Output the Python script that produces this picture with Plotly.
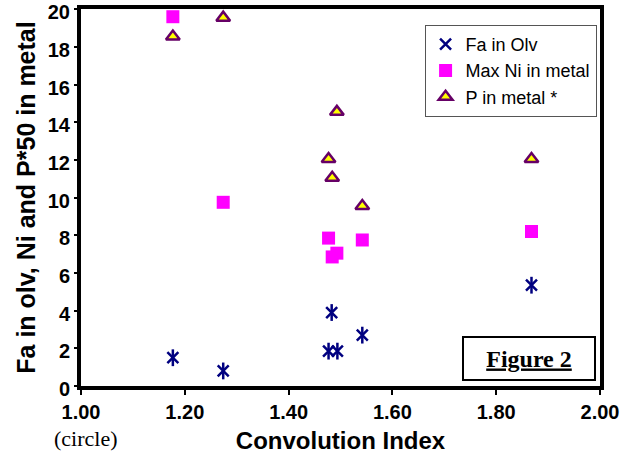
import plotly.graph_objects as go

fa_x = [1.177, 1.274, 1.477, 1.483, 1.494, 1.542, 1.868]
fa_in_olv = [1.5, 0.8, 1.85, 3.9, 1.85, 2.7, 5.35]

ni_x = [1.177, 1.274, 1.477, 1.484, 1.493, 1.542, 1.868]
max_ni = [19.6, 9.75, 7.85, 6.85, 7.05, 7.75, 8.2]

p_x = [1.177, 1.274, 1.477, 1.484, 1.493, 1.542, 1.868]
p_metal = [18.55, 19.55, 12.05, 11.05, 14.55, 9.55, 12.05]

x_ticks = [1.0, 1.2, 1.4, 1.6, 1.8, 2.0]
y_ticks = [0, 2, 4, 6, 8, 10, 12, 14, 16, 18, 20]

fig = go.Figure()
fig.add_trace(go.Scatter(x=fa_x, y=fa_in_olv, mode="markers", name="Fa in Olv",
                         legendgroup="fa",
                         marker=dict(symbol="x-thin-open", size=11, color="#000080",
                                     line=dict(color="#000080", width=2.5))))
fig.add_trace(go.Scatter(x=fa_x, y=fa_in_olv, mode="markers", showlegend=False,
                         legendgroup="fa",
                         marker=dict(symbol="line-ns-open", size=12, color="#000080",
                                     line=dict(color="#000080", width=2.5))))
fig.add_trace(go.Scatter(x=ni_x, y=max_ni, mode="markers", name="Max Ni in metal",
                         marker=dict(symbol="square", size=13, color="#FF00FF",
                                     line=dict(width=0))))
fig.add_trace(go.Scatter(x=p_x, y=p_metal, mode="markers", name="P in metal *",
                         marker=dict(symbol="triangle-up", size=12, color="#FFFF00",
                                     line=dict(color="#660066", width=2.5))))

fig.add_annotation(x=1.0, y=0, xref="x", yref="paper", yshift=-38, xshift=5,
                   yanchor="top", xanchor="center", text="(circle)", showarrow=False,
                   font=dict(family="Liberation Serif", size=22, color="black"))
fig.add_annotation(x=0.863, y=0.072, xref="paper", yref="paper",
                   xanchor="center", yanchor="middle",
                   text="<b><u>Figure 2</u></b>", showarrow=False,
                   width=128, height=39, bordercolor="black", borderwidth=2,
                   bgcolor="white",
                   font=dict(family="Liberation Serif", size=24, color="black"))

fig.update_layout(
    width=628, height=456,
    margin=dict(l=81, r=28, t=9, b=70),
    paper_bgcolor="white", plot_bgcolor="white",
    font=dict(family="Liberation Sans", color="black"),
    legend=dict(x=0.662, y=0.958, xanchor="left", yanchor="top",
                bordercolor="#555555", borderwidth=1, bgcolor="white",
                font=dict(family="Liberation Sans", size=18, color="black"),
                tracegroupgap=0, itemwidth=30),
    xaxis=dict(range=[1.0, 2.0], tickvals=x_ticks, automargin=False,
               ticktext=[f"<b>{v:.2f}</b>" for v in x_ticks],
               showgrid=False, zeroline=False, ticklabeloverflow="allow",
               showline=True, linecolor="black", linewidth=4, mirror=True,
               ticks="outside", ticklen=5, tickwidth=2, tickcolor="black",
               tickfont=dict(size=20, family="Liberation Sans"),
               title=dict(text="<b>Convolution Index</b>", standoff=11,
                          font=dict(size=24, family="Liberation Sans"))),
    yaxis=dict(range=[0, 20.01], tickvals=y_ticks, automargin=False,
               ticktext=[f"<b>{v}</b>" for v in y_ticks],
               showgrid=False, zeroline=False, ticklabeloverflow="allow",
               ticklabelshift=3,
               showline=True, linecolor="black", linewidth=4, mirror=True,
               ticks="outside", ticklen=3, tickwidth=2, tickcolor="black",
               tickfont=dict(size=20, family="Liberation Sans"),
               title=dict(text="<b>Fa in olv, Ni and P*50 in metal</b>", standoff=6,
                          font=dict(size=25, family="Liberation Sans"))),
)

fig.write_html("out.html", config={"displayModeBar": False},
               post_script="document.body.style.margin='0';")
